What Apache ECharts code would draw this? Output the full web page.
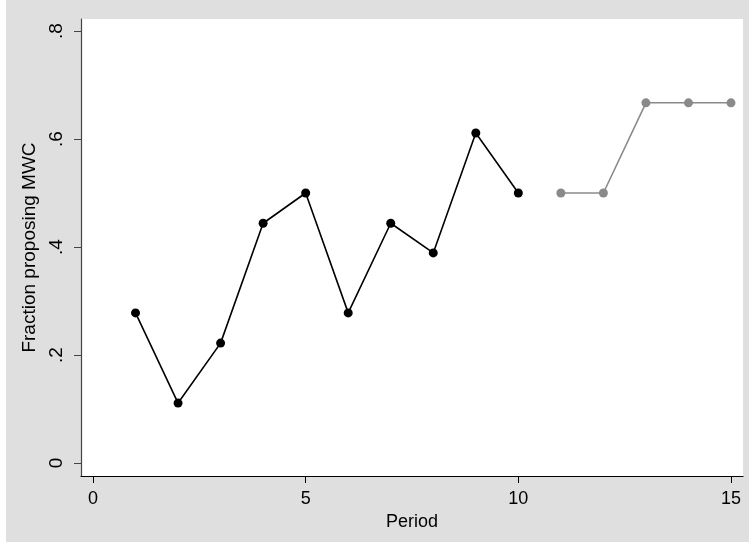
<!DOCTYPE html>
<html>
<head>
<meta charset="utf-8">
<script src="https://cdn.jsdelivr.net/npm/echarts@6/dist/echarts.min.js"></script>
<style>
  html, body { margin: 0; padding: 0; background: #ffffff; width: 749px; height: 543px; overflow: hidden; }
  #chart { position: absolute; left: 6px; top: 0; width: 743px; height: 542px; }
</style>
</head>
<body>
<div id="chart"></div>
<script>
const periodsA = [1, 2, 3, 4, 5, 6, 7, 8, 9, 10];
const valuesA = [0.278, 0.111, 0.222, 0.444, 0.5, 0.278, 0.444, 0.389, 0.611, 0.5];
const periodsB = [11, 12, 13, 14, 15];
const valuesB = [0.5, 0.5, 0.667, 0.667, 0.667];
const xTicks = [0, 5, 10, 15];
const yTicks = [0, 0.2, 0.4, 0.6, 0.8];

const font = "'Liberation Sans', Arial, sans-serif";
const chart = echarts.init(document.getElementById('chart'));
chart.setOption({
  backgroundColor: '#dfdfdf',
  animation: false,
  grid: { left: 75, right: 6, top: 19, bottom: 66, show: true, backgroundColor: '#ffffff', borderWidth: 0 },
  xAxis: {
    type: 'value', min: -0.282, max: 15.282,
    name: 'Period', nameLocation: 'middle', nameGap: 28,
    nameTextStyle: { fontFamily: font, fontSize: 18, color: '#000' },
    axisLine: { show: true, onZero: false, lineStyle: { color: '#000', width: 1.2 } },
    axisTick: { show: true, inside: false, length: 7, customValues: xTicks, lineStyle: { color: '#000' } },
    axisLabel: { customValues: xTicks, margin: 14, fontFamily: font, fontSize: 18, color: '#000' },
    splitLine: { show: false }
  },
  yAxis: {
    type: 'value', min: -0.02407, max: 0.8222,
    name: 'Fraction proposing MWC', nameLocation: 'middle', nameGap: 41,
    nameTextStyle: { fontFamily: font, fontSize: 19, color: '#000' },
    axisLine: { show: true, onZero: false, lineStyle: { color: '#444', width: 1.2 } },
    axisTick: { show: true, inside: false, length: 7, customValues: yTicks, lineStyle: { color: '#444' } },
    axisLabel: {
      customValues: yTicks, rotate: 90, margin: 15, fontFamily: font, fontSize: 19, color: '#000',
      formatter: v => (Math.abs(v) < 1e-9 ? '0' : String(+v.toFixed(1)).replace(/^0/, ''))
    },
    splitLine: { show: false }
  },
  series: [
    {
      type: 'line', data: periodsA.map((p, i) => [p, valuesA[i]]),
      symbol: 'circle', symbolSize: 9,
      lineStyle: { color: '#000', width: 1.6 },
      itemStyle: { color: '#000' }
    },
    {
      type: 'line', data: periodsB.map((p, i) => [p, valuesB[i]]),
      symbol: 'circle', symbolSize: 9,
      lineStyle: { color: '#8a8a8a', width: 1.6 },
      itemStyle: { color: '#8a8a8a' }
    }
  ]
});
</script>
</body>
</html>
